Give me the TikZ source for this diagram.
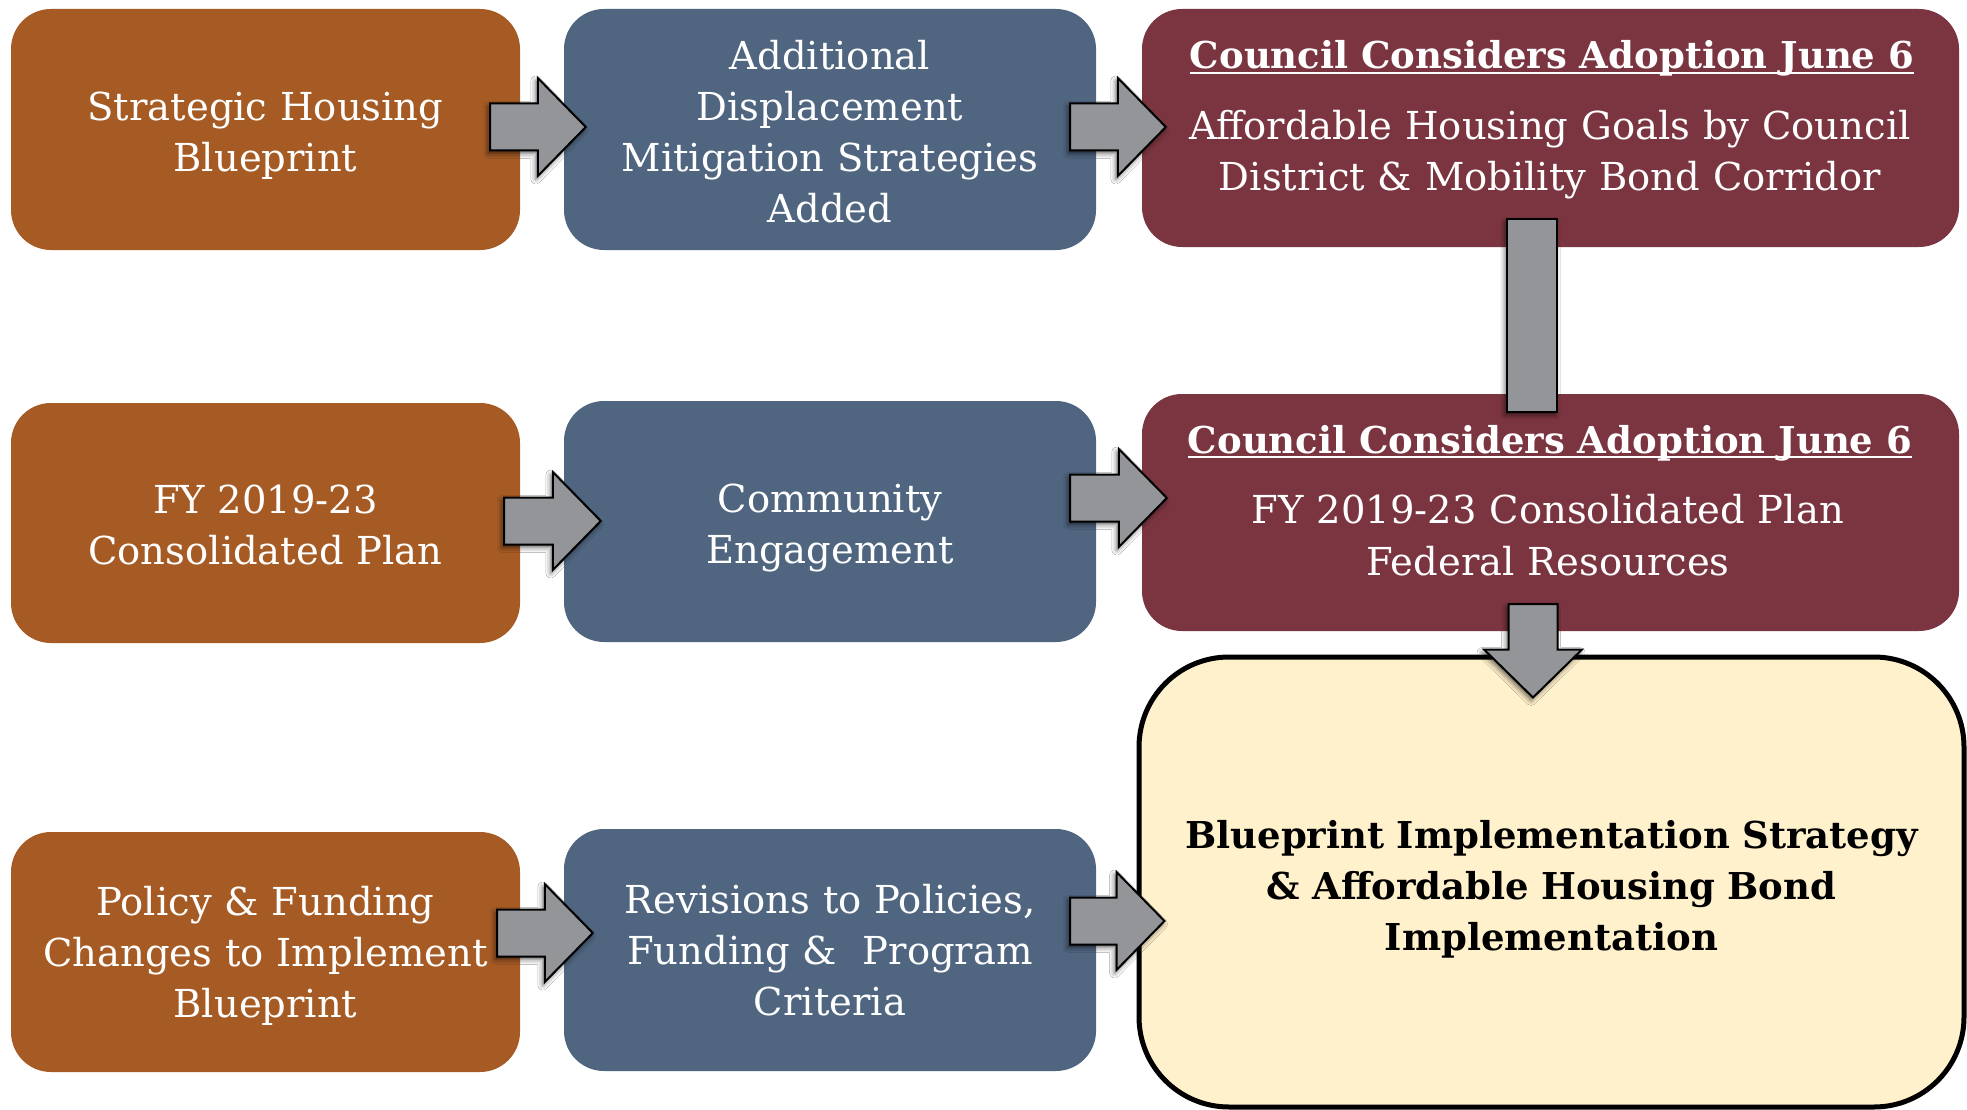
\documentclass[tikz,border=0pt]{standalone}
\usepackage{fontspec}
\setmainfont{DejaVu Serif}
\newfontfamily\slabbold{DejaVu Serif Bold}
\usetikzlibrary{calc,shadows.blur}
\definecolor{cOrange}{HTML}{A65B25}
\definecolor{cBlue}{HTML}{4F6580}
\definecolor{cRed}{HTML}{7B3540}
\definecolor{cYellow}{HTML}{FFF1CC}
\definecolor{cGray}{HTML}{939598}
\tikzset{
  box/.style={rectangle, rounded corners=40pt, draw=none, inner sep=0pt},
  txt/.style={text=white, align=center, text width=820pt, inner sep=0pt, anchor=base,
    font=\fontsize{38.5}{51}\selectfont},
  ttl/.style={text=white, inner sep=0pt, anchor=base, font=\fontsize{37}{51}\slabbold},
  blockarrow/.style={fill=cGray, draw=black, line width=2pt, line join=miter,
    blur shadow={shadow xshift=-2pt, shadow yshift=-3pt, shadow blur radius=5pt, shadow opacity=60}},
}
\newcommand\hblockarrow[2]{%
  \draw[blockarrow] let \p1=#1, \p2=#2 in
   (\x1,\y1+23.5pt) -- (\x2-48pt,\y1+23.5pt) -- (\x2-48pt,\y1+49pt) -- (\x2,\y1)
   -- (\x2-48pt,\y1-49pt) -- (\x2-48pt,\y1-23.5pt) -- (\x1,\y1-23.5pt) -- cycle;}
\newcommand\vblockarrow[2]{%
  \draw[blockarrow] let \p1=#1, \p2=#2 in
   (\x1-24.5pt,\y1) -- (\x1-24.5pt,\y2+48pt) -- (\x1-49pt,\y2+48pt) -- (\x1,\y2)
   -- (\x1+49pt,\y2+48pt) -- (\x1+24.5pt,\y2+48pt) -- (\x1+24.5pt,\y1) -- cycle;}
\begin{document}
\begin{tikzpicture}[x=1pt,y=-1pt]
\useasboundingbox (0,0) rectangle (1967,1110);
\fill[white] (0,0) rectangle (1967,1110);
% boxes
\node[box, fill=cOrange, minimum width=509pt, minimum height=241pt] (o1) at (265.5,129.5) {};
\node[box, fill=cBlue, minimum width=532pt, minimum height=241pt] (b1) at (830,129.5) {};
\node[box, fill=cRed, minimum width=817pt, minimum height=238pt] (r1) at (1550.5,128) {};
\node[box, fill=cOrange, minimum width=509pt, minimum height=240pt] (o2) at (265.5,523) {};
\node[box, fill=cBlue, minimum width=532pt, minimum height=241pt] (b2) at (830,521.5) {};
\node[box, fill=cRed, minimum width=817pt, minimum height=237pt] (r2) at (1550.5,512.5) {};
\node[box, fill=cOrange, minimum width=509pt, minimum height=240pt] (o3) at (265.5,952) {};
\node[box, fill=cBlue, minimum width=532pt, minimum height=242pt] (b3) at (830,950) {};
\node[box, fill=cYellow, draw=black, line width=5pt, rounded corners=90pt,
      minimum width=825pt, minimum height=450pt] (yb) at (1551.5,882) {};
% texts
\node[txt] (o1t) at (265.5,121) {Strategic Housing\\Blueprint};
\node[txt] (b1t) at (830,69.5) {Additional\\Displacement\\Mitigation Strategies\\Added};
\node[ttl] (r1h) at (1552,69) {Council Considers Adoption June 6};
\node[txt] (r1t) at (1550,139.5) {Affordable Housing Goals by Council\\District \& Mobility Bond Corridor};
\node[txt] (o2t) at (265.5,513) {FY 2019-23\\Consolidated Plan};
\node[txt] (b2t) at (830,512) {Community\\Engagement};
\node[ttl] (r2h) at (1550,453) {Council Considers Adoption June 6};
\node[txt, font=\fontsize{38.5}{52}\selectfont] (r2t) at (1548,523) {FY 2019-23 Consolidated Plan\\Federal Resources};
\node[txt] (o3t) at (265.5,915) {Policy \& Funding\\Changes to Implement\\Blueprint};
\node[txt] (b3t) at (830,913) {Revisions to Policies,\\Funding \&~ Program\\Criteria};
\node[txt, text=black, font=\fontsize{37}{51}\slabbold] (ybt) at (1551.5,848) {Blueprint Implementation Strategy\\\& Affordable Housing Bond\\Implementation};
% underlines
\draw[white, line width=2.5pt] ([yshift=-4pt]r1h.base west) -- ([yshift=-4pt]r1h.base east);
\draw[white, line width=2.5pt] ([yshift=-4pt]r2h.base west) -- ([yshift=-4pt]r2h.base east);
% arrows
\hblockarrow{($(o1.east)+(-30,-2.5)$)}{($(b1.west)+(22,0)$)}
\hblockarrow{($(b1.east)+(-26,-2.5)$)}{($(r1.west)+(24,0)$)}
\hblockarrow{($(o2.east)+(-16,-2)$)}{($(b2.west)+(37,0)$)}
\hblockarrow{($(b2.east)+(-26,-23.5)$)}{($(r2.west)+(25,0)$)}
\hblockarrow{($(o3.east)+(-23,-19)$)}{($(b3.west)+(29,0)$)}
\hblockarrow{($(b3.east)+(-26,-29)$)}{($(yb.west)+(28,0)$)}
\draw[blockarrow] let \p1=($(r1.south)+(-18.5,-28)$), \p2=($(r2.north)+(-18.5,18)$) in
  (\x1-25pt,\y1) rectangle (\x1+25pt,\y2);
\vblockarrow{($(r2.south)+(-17.5,-27)$)}{($(yb.north)+(0,43)$)}
\end{tikzpicture}
\end{document}
